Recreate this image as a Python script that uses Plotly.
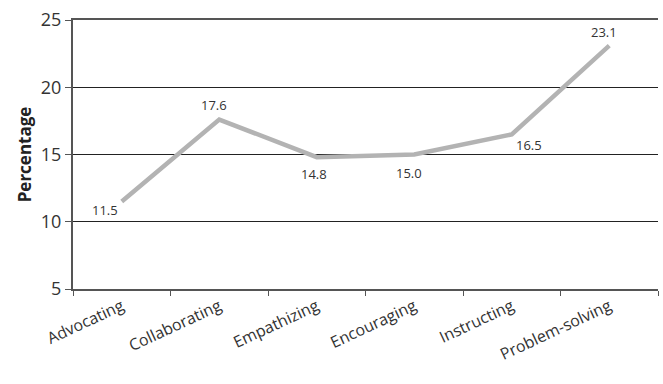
import plotly.graph_objects as go

categories = ["Advocating", "Collaborating", "Empathizing", "Encouraging", "Instructing", "Problem-solving"]
values = [11.5, 17.6, 14.8, 15.0, 16.5, 23.1]
label_text = ["11.5", "17.6", "14.8", "15.0", "16.5", "23.1"]
# label offsets in pixels (style only)
label_dx = [-17, -5, -3, -5, 17, -5]
label_dy = [-8, 15, -17, -18, -11, 14]
y_ticks = [5, 10, 15, 20, 25]

font_family = "Open Sans, Noto Sans, sans-serif"

fig = go.Figure()
fig.add_trace(go.Scatter(
    x=categories, y=values, mode="lines",
    line=dict(color="#b3b3b3", width=4.5),
    showlegend=False,
))

for c, v, t, dx, dy in zip(categories, values, label_text, label_dx, label_dy):
    fig.add_annotation(
        x=c, y=v, text=t, showarrow=False, xshift=dx, yshift=dy,
        font=dict(family=font_family, size=13, color="#333333"),
    )

fig.update_layout(
    width=663, height=384,
    margin=dict(l=73, r=5, t=20, b=95),
    plot_bgcolor="white", paper_bgcolor="white",
    font=dict(family=font_family, color="#333333"),
)
fig.update_xaxes(
    range=[-0.5, 5.5], autorange=False,
    tickson="boundaries", ticks="outside", ticklen=5, tickcolor="#555555",
    showline=True, linecolor="#555555", linewidth=2, mirror=True,
    showgrid=False, tickangle=-25,
    tickfont=dict(family=font_family, size=16, color="#333333"),
)
fig.update_yaxes(
    range=[5, 25], tickvals=y_ticks, ticks="outside", ticklen=6, tickcolor="#555555",
    showline=True, linecolor="#555555", linewidth=2,
    showgrid=True, gridcolor="#222222", gridwidth=1, zeroline=False,
    tickfont=dict(family=font_family, size=18, color="#333333"),
    title=dict(text="<b>Percentage</b>", font=dict(family=font_family, size=17, color="#222222"), standoff=5),
)

fig.write_html("out.html")
